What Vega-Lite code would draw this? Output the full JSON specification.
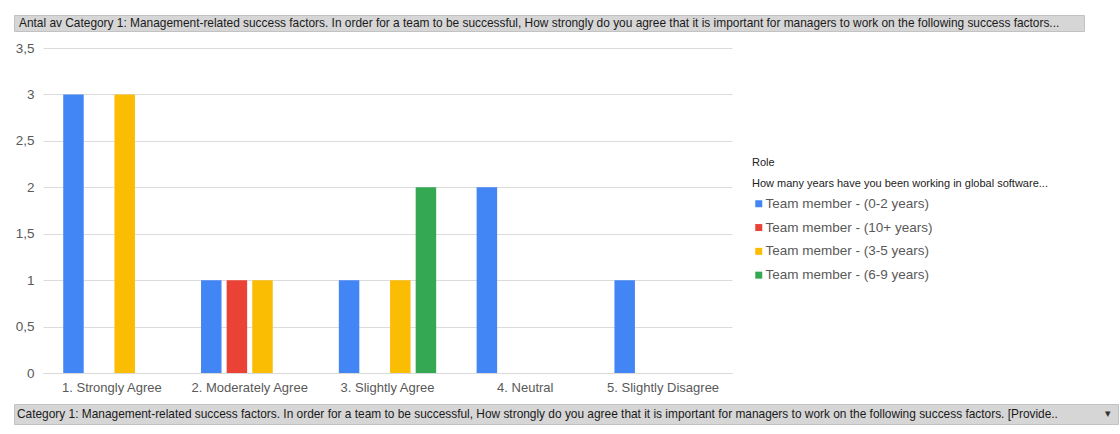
{
  "$schema": "https://vega.github.io/schema/vega-lite/v6.json",
  "background": "white",
  "padding": {"left": 13, "top": 14, "right": 0, "bottom": 0},
  "spacing": 9,
  "config": {"font": "Liberation Sans", "view": {"stroke": null}},
  "vconcat": [
    {
      "width": 1070,
      "height": 16,
      "view": {"fill": "#d6d6d6", "stroke": "#c2c2c2"},
      "data": {"values": [{"label": "Antal av Category 1: Management-related success factors. In order for a team to be successful, How strongly do you agree that it is important for managers to work on the following success factors..."}]},
      "mark": {"type": "text", "align": "left", "baseline": "middle", "dx": 5, "fontSize": 11.9, "color": "#1a1a1a"},
      "encoding": {
        "x": {"datum": 0, "type": "quantitative", "scale": {"domain": [0, 1]}, "axis": null},
        "y": {"datum": 0.5, "type": "quantitative", "scale": {"domain": [0, 1]}, "axis": null},
        "text": {"field": "label"}
      }
    },
    {
      "spacing": 0,
      "hconcat": [
        {
          "width": 1,
          "height": 325,
          "data": {"values": []},
          "mark": "point"
        },
        {
          "width": 689,
          "height": 325,
          "data": {"values": [
            {"answer": "1. Strongly Agree", "group": "Team member - (0-2 years)", "count": 3},
            {"answer": "1. Strongly Agree", "group": "Team member - (3-5 years)", "count": 3},
            {"answer": "2. Moderately Agree", "group": "Team member - (0-2 years)", "count": 1},
            {"answer": "2. Moderately Agree", "group": "Team member - (10+ years)", "count": 1},
            {"answer": "2. Moderately Agree", "group": "Team member - (3-5 years)", "count": 1},
            {"answer": "3. Slightly Agree", "group": "Team member - (0-2 years)", "count": 1},
            {"answer": "3. Slightly Agree", "group": "Team member - (3-5 years)", "count": 1},
            {"answer": "3. Slightly Agree", "group": "Team member - (6-9 years)", "count": 2},
            {"answer": "4. Neutral", "group": "Team member - (0-2 years)", "count": 2},
            {"answer": "5. Slightly Disagree", "group": "Team member - (0-2 years)", "count": 1}
          ]},
          "mark": {"type": "bar"},
          "encoding": {
            "x": {
              "field": "answer", "type": "nominal",
              "sort": ["1. Strongly Agree", "2. Moderately Agree", "3. Slightly Agree", "4. Neutral", "5. Slightly Disagree"],
              "scale": {"paddingInner": 0.275, "paddingOuter": 0.1375},
              "axis": {"title": null, "labelAngle": 0, "ticks": false, "labelPadding": 8, "labelFontSize": 13, "labelColor": "#595959", "domainColor": "#d9d9d9", "grid": false}
            },
            "xOffset": {
              "field": "group", "type": "nominal",
              "sort": ["Team member - (0-2 years)", "Team member - (10+ years)", "Team member - (3-5 years)", "Team member - (6-9 years)"],
              "scale": {"paddingInner": 0.2, "paddingOuter": 0.05}
            },
            "y": {
              "field": "count", "type": "quantitative",
              "scale": {"domain": [0, 3.5], "nice": false},
              "axis": {"title": null, "values": [0, 0.5, 1, 1.5, 2, 2.5, 3, 3.5], "labelExpr": "replace(format(datum.value, ''), '.', ',')", "domain": false, "ticks": false, "labelPadding": 9, "labelFontSize": 13.5, "labelColor": "#595959", "gridColor": "#dcdcdc"}
            },
            "color": {
              "field": "group", "type": "nominal",
              "scale": {
                "domain": ["Team member - (0-2 years)", "Team member - (10+ years)", "Team member - (3-5 years)", "Team member - (6-9 years)"],
                "range": ["#4285f4", "#ea4335", "#fbbc04", "#34a853"]
              },
              "legend": {
                "orient": "none", "legendX": 738, "legendY": 142,
                "title": ["Role", "How many years have you been working in global software..."],
                "titleFontSize": 11, "titleFontWeight": "normal", "titleColor": "#222222", "titleLineHeight": 21, "titlePadding": 8, "titleLimit": 400,
                "symbolType": "square", "symbolSize": 49, "symbolStrokeWidth": 0,
                "labelFontSize": 13.5, "labelColor": "#595959", "labelOffset": 0, "labelLimit": 400, "rowPadding": 8.8
              }
            }
          }
        }
      ]
    },
    {
      "width": 1104,
      "height": 20,
      "view": {"fill": "#d6d6d6", "stroke": "#c2c2c2"},
      "encoding": {
        "y": {"datum": 0.5, "type": "quantitative", "scale": {"domain": [0, 1]}, "axis": null}
      },
      "layer": [
        {
          "data": {"values": [{"label": "Category 1: Management-related success factors. In order for a team to be successful, How strongly do you agree that it is important for managers to work on the following success factors.  [Provide..", "pos": 0}]},
          "mark": {"type": "text", "align": "left", "baseline": "middle", "dx": 3, "fontSize": 11.9, "color": "#1a1a1a"},
          "encoding": {
            "x": {"field": "pos", "type": "quantitative", "scale": {"domain": [0, 1]}, "axis": null},
            "text": {"field": "label"}
          }
        },
        {
          "data": {"values": [{"label": "▾", "pos": 1}]},
          "mark": {"type": "text", "align": "right", "baseline": "middle", "dx": -7, "fontSize": 11, "color": "#333333"},
          "encoding": {
            "x": {"field": "pos", "type": "quantitative", "scale": {"domain": [0, 1]}, "axis": null},
            "text": {"field": "label"}
          }
        }
      ]
    }
  ]
}
